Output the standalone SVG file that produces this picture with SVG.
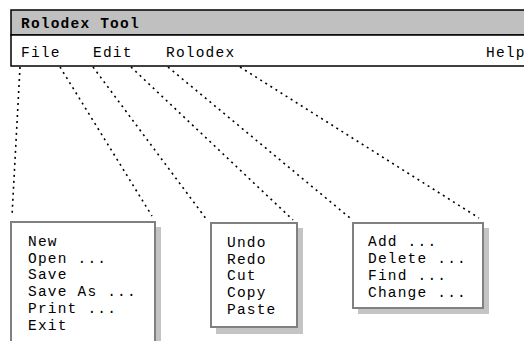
<svg xmlns="http://www.w3.org/2000/svg" width="524" height="341" viewBox="0 0 524 341">
<style>
.t{font-family:"Liberation Mono","Courier New",monospace;font-size:14.5px;letter-spacing:1.2px;fill:#000}
.b{font-weight:bold}
.box{fill:#fff;stroke:#808080;stroke-width:2}
.sh{fill:#c4c4c4}
.con{stroke:#000;stroke-width:1.6;stroke-dasharray:2 4;fill:none}
</style>
<rect width="524" height="341" fill="#fff"/>
<g id="window">
<rect x="11" y="10" width="520" height="25" fill="#c0c0c0" stroke="#000" stroke-width="1.5"/>
<rect x="11" y="35" width="520" height="31" fill="#fff" stroke="#000" stroke-width="1.5"/>
<text class="t b" x="21" y="28">Rolodex Tool</text>
<text class="t" x="21" y="57">File</text>
<text class="t" x="93" y="57">Edit</text>
<text class="t" x="166" y="57">Rolodex</text>
<text class="t" x="486" y="57">Help</text>
</g>
<g id="connectors">
<line class="con" x1="20" y1="67" x2="12" y2="216"/>
<line class="con" x1="60" y1="67" x2="152" y2="216"/>
<line class="con" x1="93" y1="67" x2="207" y2="220"/>
<line class="con" x1="131" y1="67" x2="293" y2="220"/>
<line class="con" x1="168" y1="67" x2="350" y2="218"/>
<line class="con" x1="240" y1="67" x2="479" y2="218"/>
</g>
<g id="file-menu">
<rect class="sh" x="155" y="227" width="6" height="120"/>
<rect class="box" x="11" y="222" width="144" height="125"/>
<text class="t" x="28" y="246">New</text>
<text class="t" x="28" y="263">Open ...</text>
<text class="t" x="28" y="279">Save</text>
<text class="t" x="28" y="296">Save As ...</text>
<text class="t" x="28" y="313">Print ...</text>
<text class="t" x="28" y="330">Exit</text>
</g>
<g id="edit-menu">
<rect class="sh" x="216" y="228" width="87" height="106"/>
<rect class="box" x="211" y="223" width="86" height="104"/>
<text class="t" x="227" y="247">Undo</text>
<text class="t" x="227" y="264">Redo</text>
<text class="t" x="227" y="280">Cut</text>
<text class="t" x="227" y="297">Copy</text>
<text class="t" x="227" y="314">Paste</text>
</g>
<g id="rolodex-menu">
<rect class="sh" x="358" y="228" width="131" height="86"/>
<rect class="box" x="353" y="223" width="130" height="85"/>
<text class="t" x="368" y="246">Add ...</text>
<text class="t" x="368" y="263">Delete ...</text>
<text class="t" x="368" y="280">Find ...</text>
<text class="t" x="368" y="297">Change ...</text>
</g>
</svg>
